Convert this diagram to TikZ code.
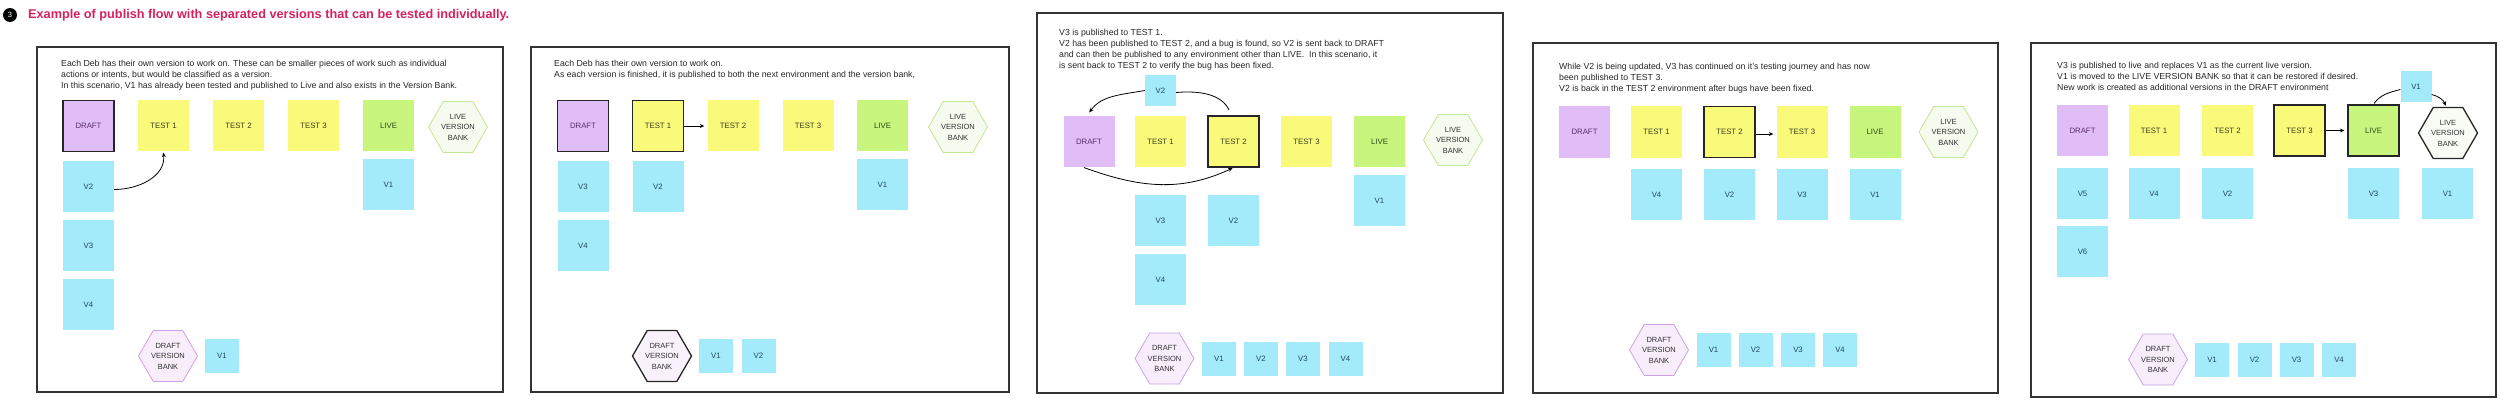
\documentclass[tikz,border=0pt]{standalone}
\usepackage{fontspec}
\setmainfont{Liberation Sans}
\usetikzlibrary{arrows.meta, shapes.geometric}

\definecolor{titlered}{RGB}{214,34,92}
\definecolor{draftpurple}{RGB}{224,189,246}
\definecolor{testyellow}{RGB}{249,249,122}
\definecolor{livegreen}{RGB}{200,245,126}
\definecolor{versionblue}{RGB}{163,235,250}
\definecolor{drafttext}{RGB}{90,45,110}
\definecolor{testtext}{RGB}{61,61,30}
\definecolor{livetext}{RGB}{47,77,22}
\definecolor{versiontext}{RGB}{30,74,92}
\definecolor{livebankfill}{RGB}{245,251,239}
\definecolor{livebankline}{RGB}{194,229,150}
\definecolor{draftbankfill}{RGB}{247,237,251}
\definecolor{draftbankline}{RGB}{205,162,230}

\tikzset{
  panel/.style={draw=black!80, line width=1.2pt},
  note/.style={anchor=north west, align=left, inner sep=0pt, text=black!85,
    font=\fontsize{8.75}{11}\selectfont},
  envbox/.style={minimum size=51pt, inner sep=0pt, font=\fontsize{7.8}{9}\selectfont},
  draftenv/.style={envbox, fill=draftpurple, text=drafttext},
  testenv/.style={envbox, fill=testyellow, text=testtext},
  liveenv/.style={envbox, fill=livegreen, text=livetext},
  version/.style={envbox, fill=versionblue, text=versiontext},
  bankversion/.style={version, minimum size=34pt},
  movedversion/.style={version, minimum size=31pt},
  bank/.style={regular polygon, regular polygon sides=6, minimum size=59pt, inner sep=0pt,
    align=center, line width=0.8pt, text=black!80, font=\fontsize{7.5}{10.5}\selectfont},
  livebank/.style={bank, draw=livebankline, fill=livebankfill},
  draftbank/.style={bank, draw=draftbankline, fill=draftbankfill},
  current/.style={draw=black!85, line width=1.3pt},
  arr/.style={-{Stealth[length=4.5pt, width=4pt]}, line width=0.8pt},
}

\begin{document}
\begin{tikzpicture}[x=1pt, y=-1pt]
  \useasboundingbox (0,0) rectangle (2500,401);

  % Title
  \node[circle, fill=black, text=white, minimum size=14pt, inner sep=0pt,
    font=\fontsize{7.5}{8}\selectfont] (num) at (10,15) {3};
  \node[anchor=west, inner sep=0pt, text=titlered, font=\fontsize{12.7}{14}\selectfont\bfseries]
    (title) at (28,15) {Example of publish flow with separated versions that can be tested individually.};

  % ==========================================
  % PANEL 1: every dev has a version, V1 live
  % ==========================================
  \begin{scope}[shift={(37,47)}, name prefix=p1-]
    \draw[panel] (0,0) rectangle (466,345);
    \node[note] (txt) at (24,13) {Each Deb has their own version to work on. These can be smaller pieces of work such as individual\\
      actions or intents, but would be classified as a version.\\
      In this scenario, V1 has already been tested and published to Live and also exists in the Version Bank.};

    % Environments
    \node[draftenv, current] (draft) at (51.5,79) {DRAFT};
    \node[testenv] (test1) at (126.5,79) {TEST 1};
    \node[testenv] (test2) at (201.5,79) {TEST 2};
    \node[testenv] (test3) at (276.5,79) {TEST 3};
    \node[liveenv] (live) at (351.5,79) {LIVE};
    \node[livebank] (livebank) at (421,80) {LIVE\\VERSION\\BANK};

    % Versions
    \node[version] (v2) at (51.5,139.5) {V2};
    \node[version] (v3) at (51.5,198.5) {V3};
    \node[version] (v4) at (51.5,257.5) {V4};
    \node[version] (v1) at (351.5,137.5) {V1};

    % Draft version bank
    \node[draftbank] (draftbank) at (131,309) {DRAFT\\VERSION\\BANK};
    \node[bankversion] (b1) at (185,309) {V1};

    % Publish V2
    \draw[arr] (v2.east) ++(0,3) to[out=0, in=-85] ([yshift=-1pt]test1.south);
  \end{scope}

  % ==========================================
  % PANEL 2: finished versions are published
  % ==========================================
  \begin{scope}[shift={(531,47)}, name prefix=p2-]
    \draw[panel] (0,0) rectangle (478,345);
    \node[note] (txt) at (23,13) {Each Deb has their own version to work on.\\
      As each version is finished, it is published to both the next environment and the version bank,};

    % Environments
    \node[draftenv, current] (draft) at (52,79) {DRAFT};
    \node[testenv, current] (test1) at (127,79) {TEST 1};
    \node[testenv] (test2) at (202,79) {TEST 2};
    \node[testenv] (test3) at (277,79) {TEST 3};
    \node[liveenv] (live) at (351.5,79) {LIVE};
    \node[livebank] (livebank) at (427,80) {LIVE\\VERSION\\BANK};

    % Versions
    \node[version] (v3) at (52,139.5) {V3};
    \node[version] (v2) at (127,139.5) {V2};
    \node[version] (v4) at (52,198.5) {V4};
    \node[version] (v1) at (351.5,137.5) {V1};

    % Draft version bank
    \node[draftbank, current, fill=draftbankfill!70!white] (draftbank) at (131,309) {DRAFT\\VERSION\\BANK};
    \node[bankversion] (b1) at (185,309) {V1};
    \node[bankversion] (b2) at (227.5,309) {V2};

    % Publish to next environment
    \draw[arr, shorten >=3pt] (test1) -- (test2);
  \end{scope}

  % ==========================================
  % PANEL 3: bug found, V2 back to DRAFT
  % ==========================================
  \begin{scope}[shift={(1037,13)}, name prefix=p3-]
    \draw[panel] (0,0) rectangle (466,380);
    \node[note] (txt) at (22,16) {V3 is published to TEST 1.\\
      V2 has been published to TEST 2, and a bug is found, so V2 is sent back to DRAFT\\
      and can then be published to any environment other than LIVE.\ \ In this scenario, it\\
      is sent back to TEST 2 to verify the bug has been fixed.};

    % Environments
    \node[draftenv] (draft) at (52,128.5) {DRAFT};
    \node[testenv] (test1) at (123.5,128.5) {TEST 1};
    \node[testenv, current] (test2) at (196.5,128.5) {TEST 2};
    \node[testenv] (test3) at (269.5,128.5) {TEST 3};
    \node[liveenv] (live) at (342.5,128.5) {LIVE};
    \node[livebank] (livebank) at (416,127) {LIVE\\VERSION\\BANK};

    % Versions
    \node[movedversion] (back) at (123.5,77.5) {V2};
    \node[version] (v1) at (342.5,187.5) {V1};
    \node[version] (v3) at (123.5,207.5) {V3};
    \node[version] (v2) at (196.5,207.5) {V2};
    \node[version] (v4) at (123.5,266.5) {V4};

    % Draft version bank
    \node[draftbank] (draftbank) at (127.5,345.5) {DRAFT\\VERSION\\BANK};
    \node[bankversion] (b1) at (182,346) {V1};
    \node[bankversion] (b2) at (224,346) {V2};
    \node[bankversion] (b3) at (266,346) {V3};
    \node[bankversion] (b4) at (308.5,346) {V4};

    % Sent back and republished
    \draw[line width=0.8pt, shorten <=6pt] ([xshift=-2pt]test2.north) to[out=115, in=5] ([yshift=-2pt]back.east);
    \draw[arr, shorten >=4pt] (back.west) to[out=190, in=55] ([xshift=-2pt]draft.north);
    \draw[arr, shorten <=1pt, shorten >=1pt] ([xshift=-6pt]draft.south) to[out=-20, in=-155] (test2.south);
  \end{scope}

  % ==========================================
  % PANEL 4: V3 moves on to TEST 3
  % ==========================================
  \begin{scope}[shift={(1533,43)}, name prefix=p4-]
    \draw[panel] (0,0) rectangle (465,350);
    \node[note] (txt) at (26,20) {While V2 is being updated, V3 has continued on it's testing journey and has now\\
      been published to TEST 3.\\
      V2 is back in the TEST 2 environment after bugs have been fixed.};

    % Environments
    \node[draftenv] (draft) at (51.5,89) {DRAFT};
    \node[testenv] (test1) at (123.5,89) {TEST 1};
    \node[testenv, current] (test2) at (196.5,89) {TEST 2};
    \node[testenv] (test3) at (269,89) {TEST 3};
    \node[liveenv] (live) at (342,89) {LIVE};
    \node[livebank] (livebank) at (415.5,89) {LIVE\\VERSION\\BANK};

    % Versions
    \node[version] (v4) at (123.5,151.5) {V4};
    \node[version] (v2) at (196.5,151.5) {V2};
    \node[version] (v3) at (269,151.5) {V3};
    \node[version] (v1) at (342,151.5) {V1};

    % Draft version bank
    \node[draftbank] (draftbank) at (126,307) {DRAFT\\VERSION\\BANK};
    \node[bankversion] (b1) at (180.5,307) {V1};
    \node[bankversion] (b2) at (222.5,307) {V2};
    \node[bankversion] (b3) at (265,307) {V3};
    \node[bankversion] (b4) at (307,307) {V4};

    % Publish to next environment
    \draw[arr, shorten >=3pt] ([yshift=-2pt]test2.east) -- ([yshift=-2pt]test3.west);
  \end{scope}

  % ==========================================
  % PANEL 5: V3 goes live, V1 to the bank
  % ==========================================
  \begin{scope}[shift={(2031,43)}, name prefix=p5-]
    \draw[panel] (0,0) rectangle (465,354);
    \node[note] (txt) at (26,19) {V3 is published to live and replaces V1 as the current live version.\\
      V1 is moved to the LIVE VERSION BANK so that it can be restored if desired.\\
      New work is created as additional versions in the DRAFT environment};

    % Environments
    \node[draftenv] (draft) at (51.5,87.5) {DRAFT};
    \node[testenv] (test1) at (123,87.5) {TEST 1};
    \node[testenv] (test2) at (196.5,87.5) {TEST 2};
    \node[testenv, current] (test3) at (268.5,87.5) {TEST 3};
    \node[liveenv, current] (live) at (342.5,87.5) {LIVE};
    \node[livebank, current, fill=livebankfill!70!white] (livebank) at (417,90) {LIVE\\VERSION\\BANK};

    % Versions
    \node[movedversion] (moved) at (385,43.5) {V1};
    \node[version] (v5) at (51.5,150.5) {V5};
    \node[version] (v4) at (123,150.5) {V4};
    \node[version] (v2) at (196.5,150.5) {V2};
    \node[version] (v3) at (342.5,150.5) {V3};
    \node[version] (v1) at (416.5,150.5) {V1};
    \node[version] (v6) at (51.5,208.5) {V6};

    % Draft version bank
    \node[draftbank] (draftbank) at (127,316.5) {DRAFT\\VERSION\\BANK};
    \node[bankversion] (b1) at (181,317) {V1};
    \node[bankversion] (b2) at (223.5,317) {V2};
    \node[bankversion] (b3) at (265.5,317) {V3};
    \node[bankversion] (b4) at (308,317) {V4};

    % Go live, old live version to the bank
    \draw[arr, shorten >=3pt] (test3) -- (live);
    \draw[line width=0.8pt, shorten <=1pt] (live.north) to[out=55, in=195] ([yshift=-3pt]moved.west);
    \draw[arr, shorten >=1pt] ([yshift=-8pt]moved.east) to[out=-15, in=110] ([xshift=-2pt]livebank.north);
  \end{scope}

\end{tikzpicture}
\end{document}
